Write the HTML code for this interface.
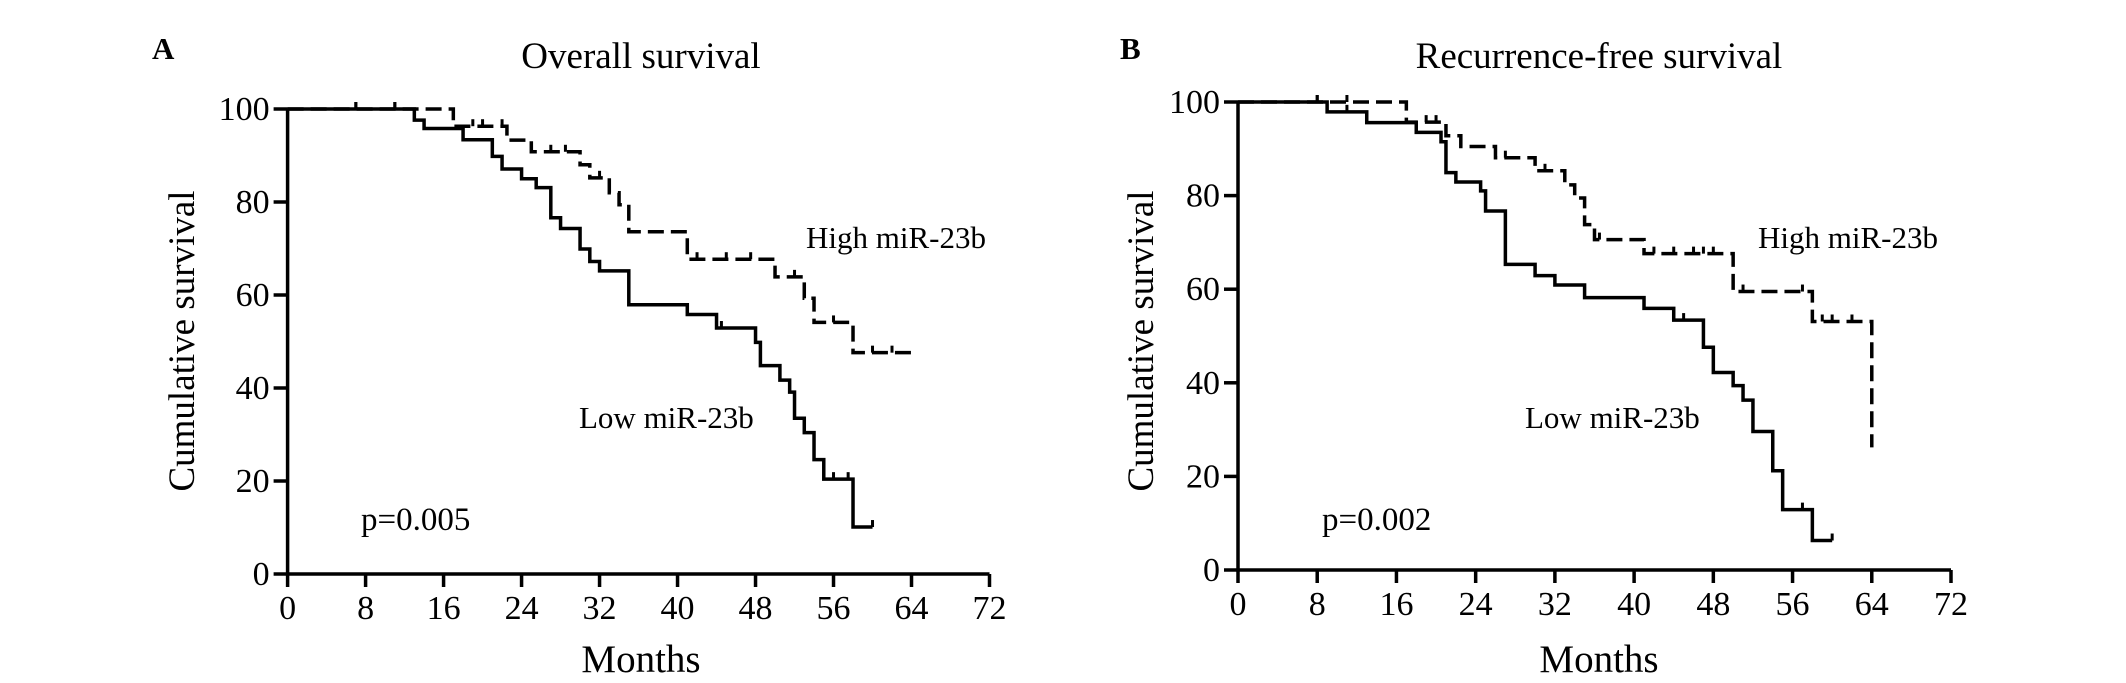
<!DOCTYPE html>
<html><head><meta charset="utf-8"><style>
html,body{margin:0;padding:0;background:#fff;}
svg{display:block;font-family:"Liberation Serif",serif;}
</style></head><body>
<svg id="chart" width="2126" height="683" viewBox="0 0 2126 683">
<rect width="2126" height="683" fill="#fff"/>
</svg>
<script>
// Panel A (Overall survival) step data: [month, survival after drop]
const aLowMonths  = [13,14,18,21,22,24,25.5,27,28,30,31,32,35,41,44,48,48.5,50.5,51.5,52,53,54,55,58];
const aLowValues  = [97.6,95.8,93.4,89.8,87.1,85,83.1,76.6,74.3,69.9,67.2,65.2,57.9,55.8,52.9,49.8,44.8,41.7,39.1,33.5,30.4,24.6,20.4,10.1];
const aLowEnd = 60;
const aHighMonths = [17,22.5,25,30,31,33,34,35,41,50,53,54,58];
const aHighValues = [96.3,93.3,90.8,88,85.2,82,79.4,73.6,67.7,63.9,59.3,54.1,47.6];
const aHighEnd = 64;
const aLowCensor  = [7,11,44.5,56,57.5,60];
const aHighCensor = [7,11,19,20,22,27,28.5,32,42,45,47.5,52,56,60,62];
// Panel B (Recurrence-free survival)
const bLowMonths  = [9,13,18,20.5,21,22,24.5,25,27,30,32,35,41,44,47,48,50,51,52,54,55,58];
const bLowValues  = [97.9,95.6,93.5,91.5,84.9,82.9,81,76.7,65.3,62.9,60.9,58.2,55.9,53.4,47.6,42.2,39.4,36.3,29.6,21.2,12.9,6.3];
const bLowEnd = 60;
const bHighMonths = [17,21,22.5,26,30,33,34,35,36,41,50,58,64];
const bHighValues = [95.7,92.8,90.5,88.1,85.3,82.3,79.5,73.8,70.6,67.6,59.5,53.1,26.2];
const bHighEnd = 64;
const bLowCensor  = [8,11,45,57,60];
const bHighCensor = [8,11,19,20,27,31,36.5,42,44,46,47,48,51,57,59,60,62];
const xTicks = [0,8,16,24,32,40,48,56,64,72];
const yTicks = [0,20,40,60,80,100];

const NS = "http://www.w3.org/2000/svg";
const svg = document.getElementById('chart');
function mk(tag, attrs, parent){
  const e = document.createElementNS(NS, tag);
  for (const k in attrs) e.setAttribute(k, attrs[k]);
  (parent||svg).appendChild(e);
  return e;
}
function txt(parent, x, y, s, size, anchor, extra){
  const t = mk('text', Object.assign({x:x, y:y, 'font-size':size, 'text-anchor':anchor||'start', fill:'#000'}, extra||{}), parent);
  t.textContent = s;
  return t;
}

function panel(cfg){
  const g = mk('g', {});
  
  
  const X = m => cfg.x0 + (cfg.x72 - cfg.x0) * m / 72;
  const Y = v => cfg.y0 + (cfg.y100 - cfg.y0) * v / 100;

  const ax = mk('path', {d:`M${X(0)},${Y(100)} L${X(0)},${Y(0)} L${X(72)},${Y(0)}`, stroke:'#000','stroke-width':3.5, fill:'none'}, g);
  
  
  xTicks.forEach(t => {
    mk('line', {x1:X(t), x2:X(t), y1:Y(0), y2:Y(0)+13, stroke:'#000','stroke-width':3.5}, g);
    const l = txt(g, X(t), Y(0)+45, String(t), 34, 'middle');
    
    
  });
  yTicks.forEach(t => {
    mk('line', {x1:X(0)-14, x2:X(0), y1:Y(t), y2:Y(t), stroke:'#000','stroke-width':3.5}, g);
    const l = txt(g, X(0)-18, Y(t)+11, String(t), 34, 'end');
    
    
  });

  function curve(months, values, end, dashed, name, censor){
    let d = `M${X(0)},${Y(100)}`;
    let cur = 100;
    months.forEach((m,i) => { d += ` L${X(m)},${Y(cur)} L${X(m)},${Y(values[i])}`; cur = values[i]; });
    if (end > months[months.length-1]) d += ` L${X(end)},${Y(cur)}`;
    const p = mk('path', {d:d, stroke:'#000','stroke-width':3.5, fill:'none'}, g);
    if (dashed) p.setAttribute('stroke-dasharray','16,7');
    
    
    censor.forEach(c => {
      let v = 100;
      months.forEach((m,i) => { if (m <= c) v = values[i]; });
      const cm = mk('line', {x1:X(c), x2:X(c), y1:Y(v), y2:Y(v)-7, stroke:'#000','stroke-width':3}, g);
      
      
    });
  }
  curve(cfg.highM, cfg.highV, cfg.highEnd, true, cfg.id + '-high-mir23b-curve', cfg.highC);
  curve(cfg.lowM, cfg.lowV, cfg.lowEnd, false, cfg.id + '-low-mir23b-curve', cfg.lowC);

  let t;
  t = txt(g, cfg.letterX, 59, cfg.letter, 31, 'start', {'font-weight':'bold'});
   
  t = txt(g, cfg.titleX, 68, cfg.title, 37, 'middle');
   
  t = txt(g, cfg.titleX, 672, 'Months', 39, 'middle');
   
  t = txt(g, 0, 0, 'Cumulative survival', 37, 'middle', {transform:`translate(${cfg.ylabX},341) rotate(-90)`});
   
  t = txt(g, cfg.highLx, 248, 'High miR-23b', 31, 'start');
   
  t = txt(g, cfg.lowLx, 428, 'Low miR-23b', 31, 'start');
   
  t = txt(g, cfg.pX, 530, cfg.p, 33, 'start');
   
}

panel({id:'overall', x0:287.6, x72:989.5, y0:574, y100:109,
  lowM:aLowMonths, lowV:aLowValues, lowEnd:aLowEnd, lowC:aLowCensor,
  highM:aHighMonths, highV:aHighValues, highEnd:aHighEnd, highC:aHighCensor,
  letter:'A', letterX:152, title:'Overall survival', titleX:641, ylabX:194,
  highLx:806, lowLx:579, pX:361, p:'p=0.005'});
panel({id:'recurrence', x0:1238, x72:1951, y0:570, y100:102,
  lowM:bLowMonths, lowV:bLowValues, lowEnd:bLowEnd, lowC:bLowCensor,
  highM:bHighMonths, highV:bHighValues, highEnd:bHighEnd, highC:bHighCensor,
  letter:'B', letterX:1120, title:'Recurrence-free survival', titleX:1599, ylabX:1153,
  highLx:1758, lowLx:1525, pX:1322, p:'p=0.002'});
</script>
</body></html>
